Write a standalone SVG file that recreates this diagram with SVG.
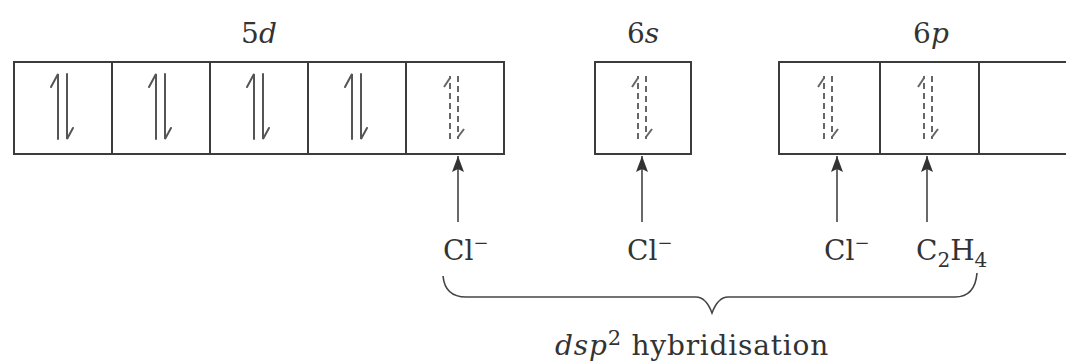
<svg xmlns="http://www.w3.org/2000/svg" xmlns:xlink="http://www.w3.org/1999/xlink" width="1066" height="364" viewBox="0 0 1066 364">
<style>
.box{fill:none;stroke:#3c3c3c;stroke-width:2}
.sp{fill:none;stroke:#555;stroke-width:2;stroke-linecap:round}
.dp{fill:none;stroke:#666;stroke-width:2;stroke-dasharray:6 4}
.db{fill:none;stroke:#666;stroke-width:2}
.con{fill:none;stroke:#444;stroke-width:1.6}
.lbl{font-family:"DejaVu Serif","Liberation Serif",serif;fill:#333;font-size:28px}
.it{font-style:italic}
</style>
<defs>
<marker id="ah2" viewBox="0 0 16 12" refX="16" refY="6" markerWidth="16" markerHeight="12" markerUnits="userSpaceOnUse" orient="auto">
<path d="M0,0 L16,6 L0,12 L3,6 Z" fill="#333"/>
</marker>
<g id="solid">
<path class="sp" d="M-5,139 V74 L-12,87"/>
<path class="sp" d="M4,74 V139 L10,128"/>
</g>
<g id="dashed">
<path class="dp" d="M-5,139 V76"/>
<path class="db" d="M-5,78 L-11,87"/>
<path class="dp" d="M3,76 V139"/>
<path class="db" d="M3,137 L9,129"/>
</g>
</defs>
<rect width="1066" height="364" fill="#fff"/>

<g id="d5">
<rect class="box" x="14" y="62" width="490" height="92"/>
<path class="box" d="M112,62 V154 M210,62 V154 M308,62 V154 M406,62 V154"/>
<use xlink:href="#solid" href="#solid" x="63" y="0"/>
<use xlink:href="#solid" href="#solid" x="161" y="0"/>
<use xlink:href="#solid" href="#solid" x="259" y="0"/>
<use xlink:href="#solid" href="#solid" x="357" y="0"/>
<use xlink:href="#dashed" href="#dashed" x="455" y="0"/>
<text class="lbl" x="259" y="43" text-anchor="middle">5<tspan class="it">d</tspan></text>
</g>

<g id="s6">
<rect class="box" x="595" y="62" width="96" height="92"/>
<use xlink:href="#dashed" href="#dashed" x="643" y="0"/>
<text class="lbl" x="643" y="43" text-anchor="middle">6<tspan class="it">s</tspan></text>
</g>

<g id="p6">
<path class="box" d="M1070,62 H779 V154 H1070 M880,62 V154 M979,62 V154"/>
<use xlink:href="#dashed" href="#dashed" x="829" y="0"/>
<use xlink:href="#dashed" href="#dashed" x="929" y="0"/>
<text class="lbl" x="931" y="43" text-anchor="middle">6<tspan class="it">p</tspan></text>
</g>

<g id="connectors">
<path class="con" d="M458,222 V156" marker-end="url(#ah2)"/>
<path class="con" d="M642,222 V156" marker-end="url(#ah2)"/>
<path class="con" d="M837,222 V156" marker-end="url(#ah2)"/>
<path class="con" d="M927,222 V156" marker-end="url(#ah2)"/>
</g>

<g id="ligand1"><text class="lbl" x="443" y="260" font-size="30">Cl<tspan dy="-11" font-size="18">−</tspan></text></g>
<g id="ligand2"><text class="lbl" x="627" y="260" font-size="30">Cl<tspan dy="-11" font-size="18">−</tspan></text></g>
<g id="ligand3"><text class="lbl" x="824" y="260" font-size="30">Cl<tspan dy="-11" font-size="18">−</tspan></text></g>
<g id="ligand4"><text class="lbl" x="916" y="260" font-size="30">C<tspan dy="7" font-size="20">2</tspan><tspan dy="-7">H</tspan><tspan dy="7" font-size="20">4</tspan></text></g>

<g id="brace">
<path class="con" d="M443,276 Q445,297 466,297 H696 Q706,297 712,313 Q718,297 728,297 H955 Q975,297 977,273"/>
<text class="lbl" x="555" y="355" font-size="33" letter-spacing="0.8"><tspan class="it">dsp</tspan><tspan dy="-10" font-size="21">2</tspan><tspan dy="10"> hybridisation</tspan></text>
</g>
</svg>
